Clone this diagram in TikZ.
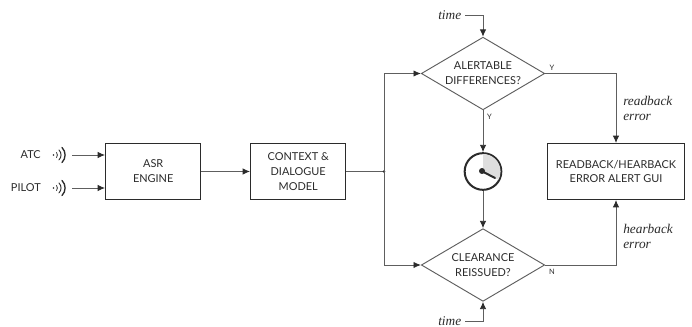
\documentclass[tikz,border=0pt]{standalone}
\usepackage{fontspec}
\usetikzlibrary{arrows.meta,shapes.geometric}
\setmainfont{Lato}
\newfontfamily\itfont[ItalicFont=Liberation Serif Italic]{Liberation Serif}
\definecolor{ink}{HTML}{2B2B2B}
\definecolor{linegray}{HTML}{5E5E5E}
\tikzset{
  x=0.75pt,y=-0.75pt,
  blockbox/.style={draw=ink,line width=0.8pt,fill=white,align=center,inner sep=0pt,font=\fontsize{8.2}{11.2}\selectfont,text=ink},
  decision/.style={draw=linegray,line width=0.7pt,fill=white,align=center,diamond,inner sep=0pt,font=\fontsize{8.2}{11.2}\selectfont,text=ink,minimum width=92.5pt,minimum height=54.5pt,aspect=1.7},
  conn/.style={draw=linegray,line width=0.65pt},
  arr/.style={conn,-{Latex[length=5.5pt,width=4.8pt,color=ink]}},
  src/.style={font=\fontsize{8.2}{10}\selectfont,text=ink,inner sep=0pt,anchor=east},
  flag/.style={font=\fontsize{5.6}{7}\selectfont,text=ink,inner sep=0pt},
  ital/.style={font=\fontsize{10}{11}\selectfont\itfont\itshape,text=ink,inner sep=0pt,align=left},
  wave/.style={draw=ink,line width=0.7pt,line cap=round},
}
\begin{document}
\begin{tikzpicture}
\useasboundingbox (0,0) rectangle (692,327);
\fill[white] (0,0) rectangle (692,327);
\node[blockbox,minimum width=71.5pt,minimum height=41.5pt] (asr) at (153.2,171.5) {ASR\\ENGINE};
\node[blockbox,minimum width=71.5pt,minimum height=41.5pt] (ctx) at (298.2,171.5) {CONTEXT \&\\DIALOGUE\\MODEL};
\node[blockbox,minimum width=103pt,minimum height=42pt] (gui) at (616,171.5) {READBACK/HEARBACK\\ERROR ALERT GUI};
\node[decision] (d1) at (483,73.5) {ALERTABLE\\DIFFERENCES?};
\node[decision] (d2) at (483,265) {CLEARANCE\\REISSUED?};
\node[circle,draw=ink,line width=1.5pt,minimum size=27.5pt,inner sep=0pt,fill=white] (clk) at (483,171.5) {};
\begin{scope}
\fill[black!13] (483,171.5) -- (483,154) arc[start angle=-90,end angle=28,radius=17.5] -- cycle;
\draw[ink,line width=1.5pt,line cap=round] (482.5,171.5) -- (495,178);
\fill[ink] (482,171) circle[radius=3];
\end{scope}
\node[src] (atc) at (41,155) {ATC};
\node[src] (pilot) at (41,188) {PILOT};
\coordinate (wa) at (72,155);
\coordinate (wp) at (72,188);
\foreach \yy in {155,188}{
  \fill[ink] (53.5,\yy) circle[radius=0.8];
  \draw[wave,line width=0.6pt] (56.5,\yy-2.5) arc[start angle=-40,end angle=40,radius=3.9];
  \draw[wave] (59,\yy-5) arc[start angle=-45,end angle=45,radius=7];
  \draw[wave,line width=1pt] (62,\yy-7.5) arc[start angle=-45,end angle=45,radius=10.6];
}
\draw[arr] (wa) -- (wa-|asr.west);
\draw[arr] (wp) -- (wp-|asr.west);
\draw[arr] (asr) -- (ctx);
\coordinate (j) at (384,171.5);
\draw[conn] (ctx) -- (j);
\fill[ink] (j) circle[radius=1.3];
\draw[arr] (j) |- (d1.west);
\draw[arr] (j) |- (d2.west);
\draw[arr] (d1) -- (clk);
\draw[arr] (clk) -- (d2);
\draw[arr] (d1.east) -| (gui.north);
\draw[arr] (d2.east) -| (gui.south);
\node[ital,anchor=east] (t1) at (461.5,15) {time};
\node[ital,anchor=east] (t2) at (461.5,321.5) {time};
\draw[arr] (t1.east)++(3.5,0) -| (d1.north);
\draw[arr] (t2.east)++(3.5,0) -| (d2.south);
\node[flag] at (552,67.5) {Y};
\node[flag] at (489.5,117) {Y};
\node[flag] at (552,271.5) {N};
\node[ital,anchor=north west] at (623,96) {readback\\error};
\node[ital,anchor=north west] at (623,224) {hearback\\error};
\end{tikzpicture}
\end{document}
